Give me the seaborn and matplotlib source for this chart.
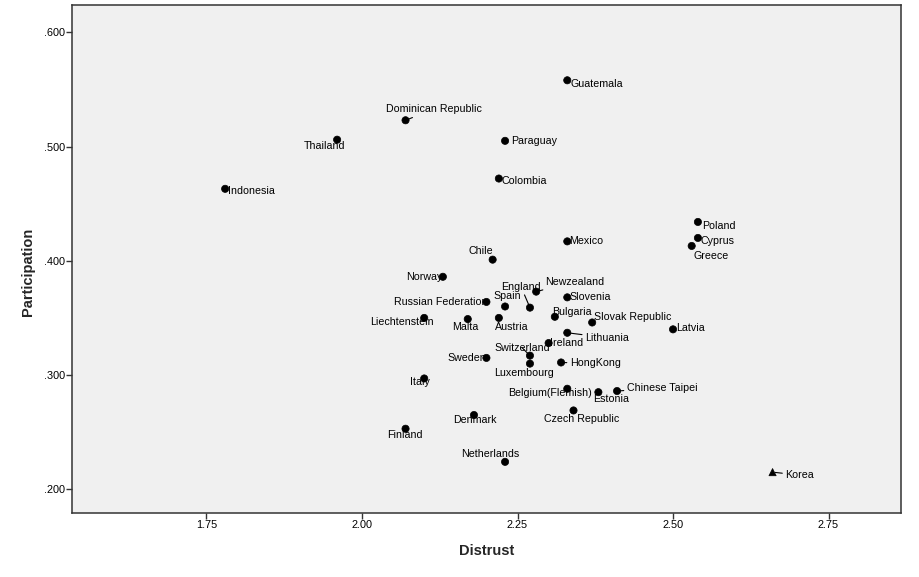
import matplotlib
matplotlib.use("Agg")
import matplotlib.pyplot as plt
import seaborn as sns
import pandas as pd

# ---------------- data ----------------
countries = ["Guatemala", "Dominican Republic", "Thailand", "Paraguay", "Colombia",
             "Indonesia", "Poland", "Cyprus", "Greece", "Mexico", "Chile", "Norway",
             "Newzealand", "Slovenia", "Russian Federation", "Spain", "England",
             "Liechtenstein", "Malta", "Austria", "Bulgaria", "Slovak Republic",
             "Latvia", "Lithuania", "Ireland", "Switzerland", "Sweden", "Luxembourg",
             "HongKong", "Italy", "Belgium(Flemish)", "Estonia", "Chinese Taipei",
             "Czech Republic", "Denmark", "Finland", "Netherlands", "Korea"]
distrust = [2.33, 2.07, 1.96, 2.23, 2.22,
            1.78, 2.54, 2.54, 2.53, 2.33, 2.21, 2.13,
            2.28, 2.33, 2.20, 2.23, 2.27,
            2.10, 2.17, 2.22, 2.31, 2.37,
            2.50, 2.33, 2.30, 2.27, 2.20, 2.27,
            2.32, 2.10, 2.33, 2.38, 2.41,
            2.34, 2.18, 2.07, 2.23, 2.66]
participation = [0.558, 0.523, 0.506, 0.505, 0.472,
                 0.463, 0.434, 0.420, 0.413, 0.417, 0.401, 0.386,
                 0.373, 0.368, 0.364, 0.360, 0.359,
                 0.350, 0.349, 0.350, 0.351, 0.346,
                 0.340, 0.337, 0.328, 0.317, 0.315, 0.310,
                 0.311, 0.297, 0.288, 0.285, 0.286,
                 0.269, 0.265, 0.253, 0.224, 0.215]
marker_group = ["circle"] * 37 + ["triangle"]

x_ticks = [1.75, 2.00, 2.25, 2.50, 2.75]
x_tick_labels = ["1.75", "2.00", "2.25", "2.50", "2.75"]
y_ticks = [0.2, 0.3, 0.4, 0.5, 0.6]
y_tick_labels = [".200", ".300", ".400", ".500", ".600"]

df = pd.DataFrame({"Country": countries, "Distrust": distrust,
                   "Participation": participation, "Marker": marker_group})

# label placement: (dx px, dy px, ha, leader line)
label_layout = {
    "Guatemala": (3, -4, "left", False),
    "Dominican Republic": (28, 11, "center", True),
    "Thailand": (-13, -6, "center", False),
    "Paraguay": (6, 0, "left", True),
    "Colombia": (3, -2, "left", False),
    "Indonesia": (3, -2, "left", False),
    "Poland": (4, -4, "left", False),
    "Cyprus": (3, -3, "left", False),
    "Greece": (2, -10, "left", False),
    "Mexico": (1.5, 0, "left", False),
    "Chile": (-12, 9, "center", True),
    "Norway": (0, 0, "right", False),
    "Newzealand": (9, 10, "left", True),
    "Slovenia": (2, 0, "left", False),
    "Russian Federation": (1, 0, "right", False),
    "Spain": (2, 10, "center", True),
    "England": (-9, 21, "center", True),
    "Liechtenstein": (-22, -4, "center", False),
    "Malta": (-2, -8, "center", False),
    "Austria": (13, -9, "center", False),
    "Bulgaria": (17, 5, "center", False),
    "Slovak Republic": (2, 5, "left", False),
    "Latvia": (3, 1, "left", False),
    "Lithuania": (18, -5, "left", True),
    "Ireland": (1, 0, "left", False),
    "Switzerland": (-8, 8, "center", True),
    "Sweden": (0, 0, "right", False),
    "Luxembourg": (-6, -9, "center", True),
    "HongKong": (9, -1, "left", True),
    "Italy": (-4, -4, "center", False),
    "Belgium(Flemish)": (-17, -4, "center", False),
    "Estonia": (13, -7, "center", False),
    "Chinese Taipei": (10, 3, "left", True),
    "Czech Republic": (8, -9, "center", True),
    "Denmark": (1, -4.5, "center", False),
    "Finland": (-1, -6, "center", False),
    "Netherlands": (-15, 8, "center", False),
    "Korea": (13, -3, "left", True),
}

# ---------------- style ----------------
sns.set_style("white")
plt.rcParams["font.family"] = ["Liberation Sans", "DejaVu Sans"]

W, H = 919, 577
fig = plt.figure(figsize=(W / 100, H / 100), dpi=100)
left, right, top, bottom = 72, 900.7, 5, 512.7
ax = fig.add_axes([left / W, 1 - bottom / H, (right - left) / W, (bottom - top) / H])
ax.set_facecolor("#F0F0F0")

sns.scatterplot(data=df, x="Distrust", y="Participation", style="Marker",
                markers={"circle": "o", "triangle": "^"}, color="black",
                edgecolor="black", linewidth=0.5, s=27, legend=False, ax=ax, zorder=3)

for name, xv, yv in zip(countries, distrust, participation):
    dx, dy, ha, leader = label_layout[name]
    kw = {}
    if leader:
        kw["arrowprops"] = dict(arrowstyle="-", color="black", lw=0.8,
                                shrinkA=0, shrinkB=2)
    ax.annotate(name, xy=(xv, yv), xytext=(dx, dy), textcoords="offset pixels",
                ha=ha, va="center", fontsize=7.7, color="black", zorder=4, **kw)

ax.set_xlim(1.5338, 2.866)
ax.set_ylim(0.1795, 0.6239)
ax.set_xticks(x_ticks)
ax.set_xticklabels(x_tick_labels)
ax.set_yticks(y_ticks)
ax.set_yticklabels(y_tick_labels)
ax.tick_params(axis="both", which="major", direction="out", length=4.3, width=1,
               color="#333333", labelsize=7.8, pad=1.0, labelcolor="black")
ax.tick_params(top=False, right=False, bottom=True, left=True)

for sp in ax.spines.values():
    sp.set_color("#333333")
    sp.set_linewidth(1.1)
    sp.set_visible(True)

ax.set_xlabel("Distrust", fontsize=10.5, fontweight="bold")
ax.set_ylabel("Participation", fontsize=10.5, fontweight="bold")
ax.xaxis.set_label_coords((487 - left) / (right - left),
                          (bottom - 544) / (bottom - top))
ax.yaxis.label.set_va("center")
ax.yaxis.set_label_coords((28 - left) / (right - left),
                          (bottom - 272) / (bottom - top))

fig.savefig("out.png", dpi=100, facecolor="white")
